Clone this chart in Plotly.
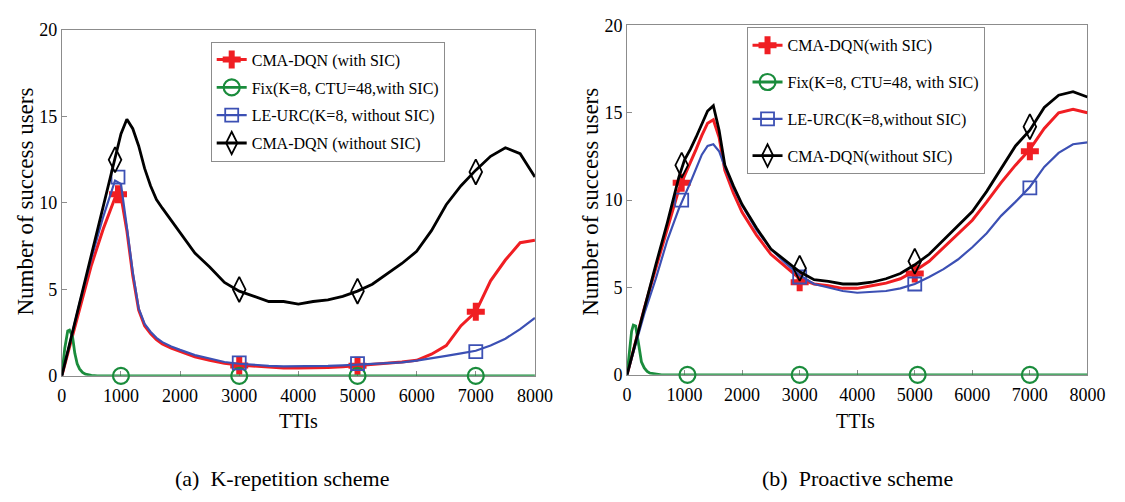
import plotly.graph_objects as go

# ---------------- data ----------------
tti = [0, 150, 300, 500, 700, 900, 1000, 1100, 1200, 1300, 1400, 1500, 1600, 1700, 1850,
       2000, 2250, 2500, 2750, 3000, 3250, 3500, 3750, 4000, 4250, 4500, 4750, 5000,
       5250, 5500, 5750, 6000, 6250, 6500, 6750, 7000, 7250, 7500, 7750, 8000]

# (a) K-repetition scheme
a_cma_sic = [0, 1.9, 3.9, 6.4, 8.5, 10.3, 10.4, 8.4, 5.8, 3.8, 2.9, 2.45, 2.1, 1.85, 1.6,
             1.4, 1.1, 0.9, 0.72, 0.62, 0.55, 0.5, 0.45, 0.45, 0.45, 0.48, 0.52, 0.58,
             0.65, 0.72, 0.8, 0.9, 1.25, 1.75, 2.9, 3.7, 5.5, 6.7, 7.7, 7.85]
a_leurc = [0, 2.1, 4.2, 6.8, 9.2, 11.3, 11.1, 8.6, 6.0, 3.9, 3.0, 2.55, 2.2, 1.95, 1.7,
           1.5, 1.2, 1.0, 0.8, 0.7, 0.62, 0.58, 0.55, 0.55, 0.55, 0.57, 0.6, 0.65,
           0.68, 0.72, 0.78, 0.88, 1.0, 1.15, 1.3, 1.45, 1.75, 2.15, 2.7, 3.35]
a_cma_nosic = [0, 2.1, 4.2, 6.9, 9.8, 12.6, 14.0, 14.85, 14.3, 13.3, 12.0, 11.0, 10.2, 9.7, 9.0,
               8.3, 7.1, 6.3, 5.4, 4.9, 4.6, 4.3, 4.3, 4.15, 4.3, 4.4, 4.6, 4.9,
               5.3, 5.9, 6.5, 7.2, 8.4, 9.9, 11.0, 11.9, 12.7, 13.2, 12.85, 11.5]
a_fix_t = [0, 50, 100, 130, 180, 220, 260, 300, 350, 400, 500, 600, 8000]
a_fix = [0, 1.6, 2.6, 2.65, 2.3, 1.3, 0.7, 0.4, 0.2, 0.1, 0.03, 0, 0]

a_mk_cma_sic_t = [950, 3000, 5000, 7000]
a_mk_cma_sic = [10.5, 0.6, 0.58, 3.7]
a_mk_fix_t = [1000, 3000, 5000, 7000]
a_mk_fix = [0, 0, 0, 0]
a_mk_leurc_t = [950, 3000, 5000, 7000]
a_mk_leurc = [11.5, 0.75, 0.7, 1.4]
a_mk_cma_nosic_t = [900, 3000, 5000, 7000]
a_mk_cma_nosic = [12.5, 5.0, 4.9, 11.8]

# (b) Proactive scheme
b_cma_sic = [0, 1.85, 3.8, 6.1, 8.4, 10.6, 11.4, 12.1, 12.9, 13.7, 14.4, 14.6, 13.6, 11.7, 10.4,
             9.3, 8.0, 6.9, 6.2, 5.5, 5.2, 5.1, 4.95, 4.95, 5.1, 5.25, 5.5, 5.95,
             6.5, 7.3, 8.1, 8.85, 9.9, 11.0, 12.0, 12.9, 14.1, 15.0, 15.2, 15.0]
b_leurc = [0, 1.7, 3.5, 5.5, 7.7, 9.5, 10.2, 11.0, 11.8, 12.6, 13.1, 13.2, 12.8, 11.9, 10.7,
           9.7, 8.3, 7.2, 6.4, 5.7, 5.2, 5.0, 4.8, 4.7, 4.75, 4.8, 4.95, 5.2,
           5.6, 6.05, 6.6, 7.3, 8.1, 9.1, 9.9, 10.75, 11.9, 12.7, 13.2, 13.3]
b_cma_nosic = [0, 1.9, 3.9, 6.3, 8.7, 11.3, 12.3, 12.9, 13.6, 14.4, 15.1, 15.4, 14.0, 12.0, 10.8,
               9.75, 8.4, 7.2, 6.55, 5.9, 5.45, 5.35, 5.2, 5.2, 5.3, 5.5, 5.8, 6.3,
               6.9, 7.7, 8.5, 9.35, 10.5, 11.8, 13.1, 14.0, 15.3, 16.0, 16.2, 15.9]
b_fix_t = [0, 50, 80, 110, 150, 200, 250, 300, 350, 400, 500, 600, 8000]
b_fix = [0, 1.5, 2.5, 2.85, 2.8, 1.8, 0.75, 0.4, 0.2, 0.1, 0.03, 0, 0]

b_mk_cma_sic_t = [950, 3000, 5000, 7000]
b_mk_cma_sic = [11.0, 5.3, 5.8, 12.8]
b_mk_fix_t = [1050, 3000, 5050, 7000]
b_mk_fix = [0, 0, 0, 0]
b_mk_leurc_t = [950, 3000, 5000, 7000]
b_mk_leurc = [10.0, 5.6, 5.2, 10.7]
b_mk_cma_nosic_t = [950, 3000, 5000, 7000]
b_mk_cma_nosic = [12.0, 6.1, 6.5, 14.2]

x_ticks = [0, 1000, 2000, 3000, 4000, 5000, 6000, 7000, 8000]
y_ticks = [0, 5, 10, 15, 20]

a_names = ["CMA-DQN (with SIC)", "Fix(K=8, CTU=48,with SIC)",
           "LE-URC(K=8, without SIC)", "CMA-DQN (without SIC)"]
b_names = ["CMA-DQN(with SIC)", "Fix(K=8, CTU=48, with SIC)",
           "LE-URC(K=8,without SIC)", "CMA-DQN(without SIC)"]

# ---------------- styles ----------------
RED = "#f01e23"
GREEN = "#1a8c3c"
BLUE = "#3c50b4"
BLACK = "#000000"
SERIF = "Liberation Serif"

styles = [
    dict(color=RED, symbol="cross", size=15, lw=0, fill=RED, width=3),
    dict(color=GREEN, symbol="circle-open", size=16, lw=2.2, fill=GREEN, width=2.8),
    dict(color=BLUE, symbol="square-open", size=13, lw=1.8, fill=BLUE, width=2.2),
    dict(color=BLACK, symbol="diamond-tall-open", size=18, lw=1.8, fill=BLACK, width=2.8),
]

fig = go.Figure()


def add_series(xa, ya, lx, ly, mx, my, name, st, legend):
    fig.add_trace(go.Scatter(x=lx, y=ly, mode="lines", xaxis=xa, yaxis=ya,
                             line=dict(color=st["color"], width=st["width"]),
                             showlegend=False, hoverinfo="skip"))
    fig.add_trace(go.Scatter(x=mx, y=my, mode="markers", xaxis=xa, yaxis=ya,
                             marker=dict(symbol=st["symbol"], size=st["size"],
                                         color=st["fill"],
                                         line=dict(color=st["color"], width=st["lw"])),
                             cliponaxis=False, showlegend=False, hoverinfo="skip"))
    fig.add_trace(go.Scatter(x=[None], y=[None], mode="lines+markers", xaxis=xa, yaxis=ya,
                             name=name, legend=legend, legendgroup=legend + name,
                             line=dict(color=st["color"], width=st["width"]),
                             marker=dict(symbol=st["symbol"], size=st["size"],
                                         color=st["fill"],
                                         line=dict(color=st["color"], width=st["lw"]))))


a_lines = [(tti, a_cma_sic), (a_fix_t, a_fix), (tti, a_leurc), (tti, a_cma_nosic)]
a_marks = [(a_mk_cma_sic_t, a_mk_cma_sic), (a_mk_fix_t, a_mk_fix),
           (a_mk_leurc_t, a_mk_leurc), (a_mk_cma_nosic_t, a_mk_cma_nosic)]
b_lines = [(tti, b_cma_sic), (b_fix_t, b_fix), (tti, b_leurc), (tti, b_cma_nosic)]
b_marks = [(b_mk_cma_sic_t, b_mk_cma_sic), (b_mk_fix_t, b_mk_fix),
           (b_mk_leurc_t, b_mk_leurc), (b_mk_cma_nosic_t, b_mk_cma_nosic)]

for i in range(4):
    add_series("x", "y", a_lines[i][0], a_lines[i][1], a_marks[i][0], a_marks[i][1],
               a_names[i], styles[i], "legend")
for i in range(4):
    add_series("x2", "y2", b_lines[i][0], b_lines[i][1], b_marks[i][0], b_marks[i][1],
               b_names[i], styles[i], "legend2")

axis_common = dict(showline=True, mirror=True, linecolor="#8c8c8c", linewidth=1,
                   ticks="inside", ticklen=5, tickcolor="#8c8c8c", showgrid=False,
                   zeroline=False, layer="below traces",
                   tickfont=dict(family=SERIF, size=18, color="black"))

fig.update_layout(
    width=1125, height=502,
    margin=dict(l=0, r=0, t=0, b=0),
    paper_bgcolor="white", plot_bgcolor="white",
    xaxis=dict(domain=[58 / 1125, 541 / 1125], range=[0, 8000], tickvals=x_ticks,
               anchor="y", ticklabelstandoff=4, **axis_common),
    yaxis=dict(domain=[(502 - 381) / 502, (502 - 21) / 502], range=[0, 20], tickvals=y_ticks,
               anchor="x", **axis_common),
    xaxis2=dict(domain=[635 / 1125, 1105 / 1125], range=[0, 8000], tickvals=x_ticks,
                anchor="y2", ticklabelstandoff=4, **axis_common),
    yaxis2=dict(domain=[(502 - 380) / 502, (502 - 16) / 502], range=[0, 20], tickvals=y_ticks,
                anchor="x2", **axis_common),
    legend=dict(x=210 / 1125, y=(502 - 33) / 502, xanchor="left", yanchor="top",
                bgcolor="white", bordercolor="#8c8c8c", borderwidth=1,
                font=dict(family=SERIF, size=16, color="black"),
                tracegroupgap=4, itemwidth=30),
    legend2=dict(x=757 / 1125, y=(502 - 18) / 502, xanchor="left", yanchor="top",
                 bgcolor="white", bordercolor="#8c8c8c", borderwidth=1,
                 font=dict(family=SERIF, size=16, color="black"),
                 tracegroupgap=13, itemwidth=30),
    showlegend=True,
)

annotations = [
    dict(text="Number of success users", x=20 / 1125, y=(502 - 200) / 502, textangle=-90,
         font=dict(family=SERIF, size=23, color="black")),
    dict(text="Number of success users", x=597 / 1125, y=(502 - 200) / 502, textangle=-90,
         font=dict(family=SERIF, size=23, color="black")),
    dict(text="TTIs", x=300 / 1125, y=(502 - 428) / 502,
         font=dict(family=SERIF, size=20, color="black")),
    dict(text="TTIs", x=868 / 1125, y=(502 - 428) / 502,
         font=dict(family=SERIF, size=20, color="black")),
    dict(text="(a)  K-repetition scheme", x=283 / 1125, y=(502 - 488) / 502,
         font=dict(family=SERIF, size=22, color="black")),
    dict(text="(b)  Proactive scheme", x=870 / 1125, y=(502 - 488) / 502,
         font=dict(family=SERIF, size=22, color="black")),
]
for a in annotations:
    a.update(xref="paper", yref="paper", showarrow=False, xanchor="center", yanchor="middle")
fig.update_layout(annotations=annotations)

fig.write_html("out.html")
